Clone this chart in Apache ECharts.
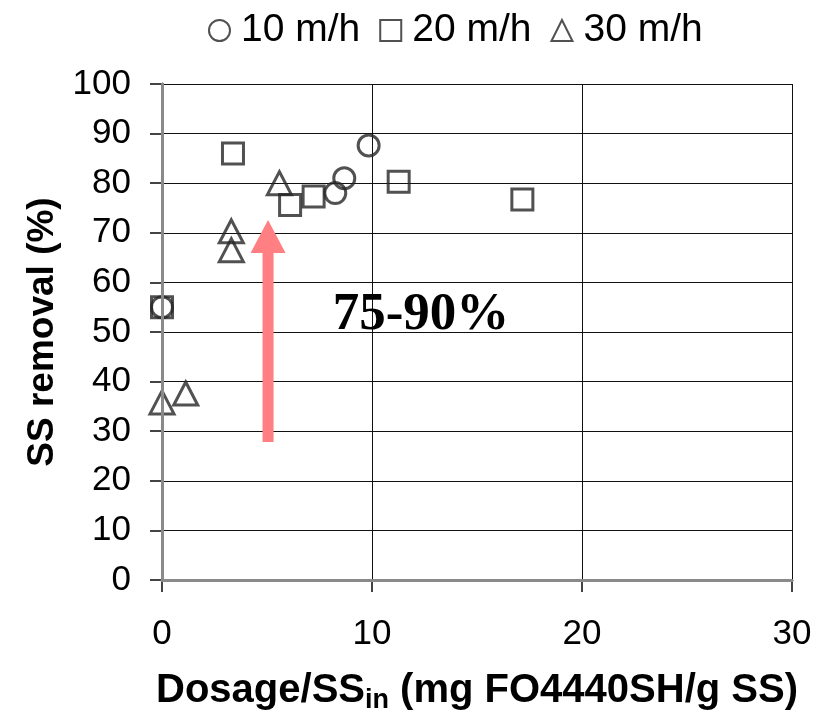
<!DOCTYPE html>
<html>
<head>
<meta charset="utf-8">
<script src="https://cdn.jsdelivr.net/npm/echarts@6/dist/echarts.min.js"></script>
<style>
  html, body { margin: 0; padding: 0; background: #fff; }
  #chart { width: 824px; height: 719px; }
</style>
</head>
<body>
<div id="chart"></div>
<script>
// Series names (filtration velocity)
const seriesNames = ['10 m/h', '20 m/h', '30 m/h'];

// Dosage/SS_in (mg FO4440SH/g SS) and SS removal (%) per velocity
const dose10 = [0, 8.25, 8.68, 9.84];
const removal10 = [55, 78, 81, 87.6];

const dose20 = [0, 3.38, 6.1, 7.22, 11.27, 17.16];
const removal20 = [55, 86, 75.6, 77.3, 80.3, 76.7];

const dose30 = [0, 1.13, 3.3, 3.3, 5.59];
const removal30 = [35.8, 37.6, 70.3, 66.5, 80];

// Improvement arrow: x position, start and end removal (%)
const arrowX = [5.05];
const arrowFrom = [27.8];
const arrowTo = [72.6];
const arrowLabel = '75-90%';

// Axis ticks
const xTicks = [0, 10, 20, 30];
const yTicks = [0, 10, 20, 30, 40, 50, 60, 70, 80, 90, 100];

const pairs = (xs, ys) => xs.map((x, i) => [x, ys[i]]);

const markStyle = {
  color: 'rgba(255,255,255,0)',
  borderColor: '#262626',
  borderWidth: 3
};

const chart = echarts.init(document.getElementById('chart'));

chart.setOption({
  animation: false,
  backgroundColor: '#fff',
  textStyle: { fontFamily: 'Liberation Sans, Arial, sans-serif' },
  legend: {
    top: 6,
    left: 203,
    itemWidth: 21,
    itemHeight: 21,
    itemGap: 19,
    data: seriesNames,
    textStyle: { fontSize: 39, color: '#000', padding: [0, 0, 0, 6] }
  },
  grid: { left: 162, right: 32, top: 84, bottom: 138 },
  xAxis: [{
    type: 'value',
    min: xTicks[0],
    max: xTicks[xTicks.length - 1],
    interval: 10,
    name: '{a|Dosage/SS}{s|in}{a| (mg FO4440SH/g SS)}',
    nameLocation: 'middle',
    nameGap: 88,
    nameTextStyle: {
      rich: {
        a: { fontSize: 40, fontWeight: 'bold', color: '#000', fontFamily: 'Liberation Sans, Arial, sans-serif', lineHeight: 46 },
        s: { fontSize: 27, fontWeight: 'bold', color: '#000', fontFamily: 'Liberation Sans, Arial, sans-serif', lineHeight: 46, verticalAlign: 'bottom', padding: [18, 0, 0, 0] }
      }
    },
    axisLine: { lineStyle: { color: '#222', width: 2.5 } },
    axisTick: { show: true, length: 12, inside: false, lineStyle: { color: '#444', width: 2 } },
    axisLabel: { fontSize: 35, color: '#000', margin: 37 },
    splitLine: { show: true, lineStyle: { color: '#111', width: 1 } }
  }, {
    type: 'value',
    position: 'top',
    min: xTicks[0],
    max: xTicks[xTicks.length - 1],
    interval: 10,
    z: 5,
    axisLine: { show: true, lineStyle: { color: '#8a8a8a', width: 3 } },
    axisTick: { show: false },
    axisLabel: { show: false },
    splitLine: { show: false }
  }],
  yAxis: [{
    type: 'value',
    min: yTicks[0],
    max: yTicks[yTicks.length - 1],
    interval: 10,
    name: 'SS removal (%)',
    nameLocation: 'middle',
    nameGap: 94,
    nameTextStyle: { fontSize: 37, fontWeight: 'bold', color: '#000' },
    axisLine: { show: true, lineStyle: { color: '#222', width: 2.5 } },
    axisTick: { show: true, length: 12, inside: false, lineStyle: { color: '#444', width: 2 } },
    axisLabel: { fontSize: 35, color: '#000', margin: 31 },
    splitLine: { show: true, lineStyle: { color: '#111', width: 1 } }
  }, {
    type: 'value',
    position: 'right',
    min: yTicks[0],
    max: yTicks[yTicks.length - 1],
    interval: 10,
    z: 5,
    axisLine: { show: true, lineStyle: { color: '#8a8a8a', width: 3 } },
    axisTick: { show: false },
    axisLabel: { show: false },
    splitLine: { show: false }
  }],
  series: [{
    name: seriesNames[0],
    type: 'scatter',
    symbol: 'circle',
    symbolSize: 21,
    itemStyle: markStyle,
    data: pairs(dose10, removal10),
    z: 4
  }, {
    name: seriesNames[1],
    type: 'scatter',
    symbol: 'rect',
    symbolSize: 21,
    itemStyle: markStyle,
    data: pairs(dose20, removal20),
    z: 3
  }, {
    name: seriesNames[2],
    type: 'scatter',
    symbol: 'triangle',
    symbolSize: [24, 23],
    itemStyle: markStyle,
    data: pairs(dose30, removal30),
    z: 3
  }, {
    // Upward arrow marking the removal improvement
    name: 'arrow',
    type: 'custom',
    silent: true,
    z: 2,
    data: arrowX.map((x, i) => [x, arrowFrom[i], arrowTo[i]]),
    renderItem: function (params, api) {
      const base = api.coord([api.value(0), api.value(1)]);
      const tip = api.coord([api.value(0), api.value(2)]);
      const shaftHalf = 5.5, headHalf = 17.5, headLen = 33;
      const cx = base[0];
      const neck = tip[1] + headLen;
      return {
        type: 'polygon',
        shape: {
          points: [
            [cx - shaftHalf, base[1]],
            [cx - shaftHalf, neck],
            [cx - headHalf, neck],
            [cx, tip[1]],
            [cx + headHalf, neck],
            [cx + shaftHalf, neck],
            [cx + shaftHalf, base[1]]
          ]
        },
        style: { fill: '#ff7f82', stroke: null }
      };
    }
  }],
  graphic: [{
    type: 'text',
    z: 10,
    style: {
      text: arrowLabel,
      x: 421,
      y: 315,
      align: 'center',
      verticalAlign: 'middle',
      font: 'bold 53px "Liberation Serif", "Times New Roman", serif',
      fill: '#000'
    }
  }]
});
</script>
</body>
</html>
